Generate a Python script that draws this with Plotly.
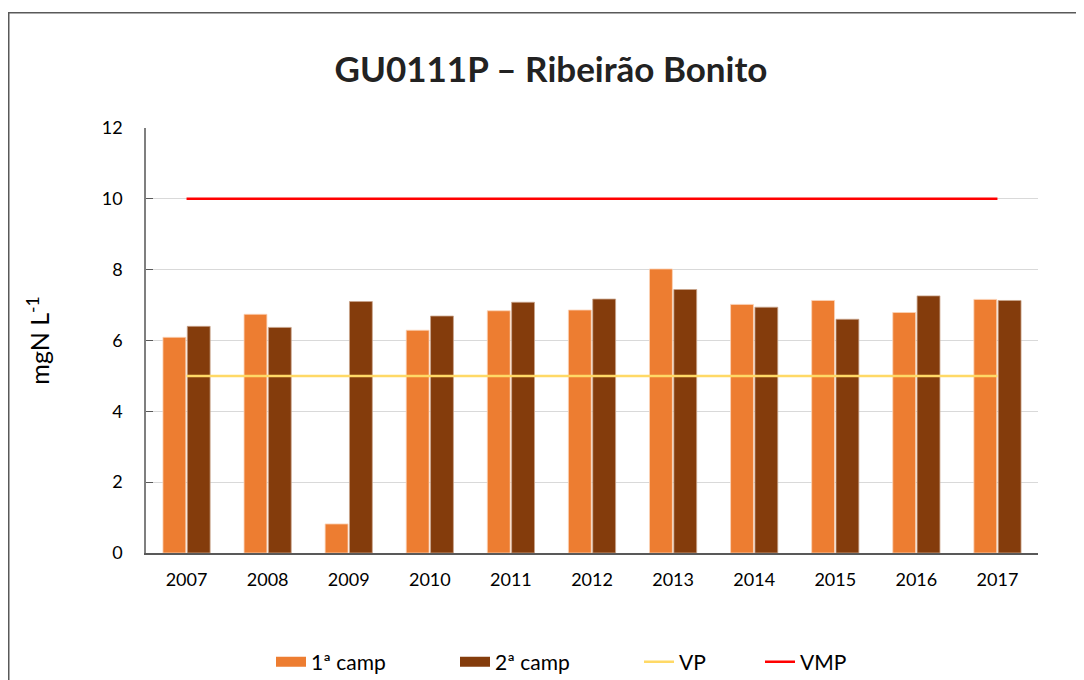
import plotly.graph_objects as go

years = ["2007", "2008", "2009", "2010", "2011", "2012", "2013", "2014", "2015", "2016", "2017"]
camp1 = [6.09, 6.74, 0.82, 6.29, 6.84, 6.86, 8.02, 7.02, 7.13, 6.79, 7.16]
camp2 = [6.40, 6.37, 7.10, 6.69, 7.08, 7.17, 7.44, 6.94, 6.60, 7.26, 7.13]
vp = [5] * len(years)
vmp = [10] * len(years)

C1, C2, CVP, CVMP = "#ED7D31", "#843C0C", "#FFD966", "#FF0000"
FONT = "Lato, 'Open Sans', sans-serif"

# page body has an 8px margin; work in screen pixels and convert
OFF = 8
W, H = 1076, 700
PL, PR, PT, PB = 146, 1038, 128, 553  # plot area in screen px
L, R, T, B = PL - OFF, W - (PR - OFF), PT - OFF, H - (PB - OFF)
pw, ph = W - L - R, H - T - B


def px(sx):
    return (sx - OFF - L) / pw


def py(sy):
    return (H - B - (sy - OFF)) / ph


fig = go.Figure()
fig.add_trace(go.Bar(x=years, y=camp1, name="1ª camp", showlegend=False,
                     marker=dict(color=C1, line=dict(color="#fbd3b8", width=0.8))))
fig.add_trace(go.Bar(x=years, y=camp2, name="2ª camp", showlegend=False,
                     marker=dict(color=C2, line=dict(color="#c9a48c", width=0.8))))
fig.add_trace(go.Scatter(x=years, y=vp, name="VP", mode="lines", showlegend=False,
                         line=dict(color=CVP, width=2.5)))
fig.add_trace(go.Scatter(x=years, y=vmp, name="VMP", mode="lines", showlegend=False,
                         line=dict(color=CVMP, width=2.5)))
# legend entries
fig.add_trace(go.Scatter(x=[None], y=[None], name="1ª camp", mode="lines", line=dict(color=C1, width=12), legend="legend"))
fig.add_trace(go.Scatter(x=[None], y=[None], name="2ª camp", mode="lines", line=dict(color=C2, width=12), legend="legend"))
fig.add_trace(go.Scatter(x=[None], y=[None], name="VP", mode="lines", line=dict(color=CVP, width=2.5), legend="legend"))
fig.add_trace(go.Scatter(x=[None], y=[None], name="VMP", mode="lines", line=dict(color=CVMP, width=2.5), legend="legend2"))

leg_common = dict(orientation="h", xanchor="left", yanchor="middle", y=py(662),
                  font=dict(size=21, family=FONT, color="#000000"), bgcolor="rgba(0,0,0,0)",
                  itemwidth=30, tracegroupgap=0)

fig.update_layout(
    width=W, height=H,
    margin=dict(l=L, r=R, t=T, b=B),
    paper_bgcolor="white", plot_bgcolor="white",
    font=dict(family=FONT, size=18, color="#000000"),
    title=dict(text="<b>GU0111P – Ribeirão Bonito</b>", x=px(551), xref="paper", xanchor="center",
               y=1 - (70 - OFF) / H, yanchor="middle", font=dict(size=35, color="#222222", family=FONT)),
    barmode="group", bargap=0.4, bargroupgap=0.06,
    showlegend=True,
    legend=dict(**leg_common, x=px(271), entrywidth=139, entrywidthmode="pixels"),
    legend2=dict(**leg_common, x=px(760)),
    xaxis=dict(type="category", showgrid=False, showline=True, linecolor="#595959", linewidth=1.5,
               ticks="", tickfont=dict(size=18), ticklabelstandoff=10, fixedrange=True),
    yaxis=dict(range=[0, 12], dtick=2, showgrid=True, gridcolor="#d9d9d9", gridwidth=1,
               showline=True, linecolor="#7f7f7f", linewidth=1.5, ticks="inside", ticklen=7,
               tickcolor="#595959", tickfont=dict(size=18), ticklabelstandoff=18, zeroline=False,
               title=dict(text="mgN L<sup>-1</sup>", font=dict(size=25), standoff=45)),
    shapes=[dict(type="rect", xref="paper", yref="paper",
                 x0=px(8.75), x1=px(1200), y0=py(900), y1=py(12.75),
                 line=dict(color="#595959", width=1.5), fillcolor="rgba(0,0,0,0)", layer="below")],
)

fig.write_html("out.html")
